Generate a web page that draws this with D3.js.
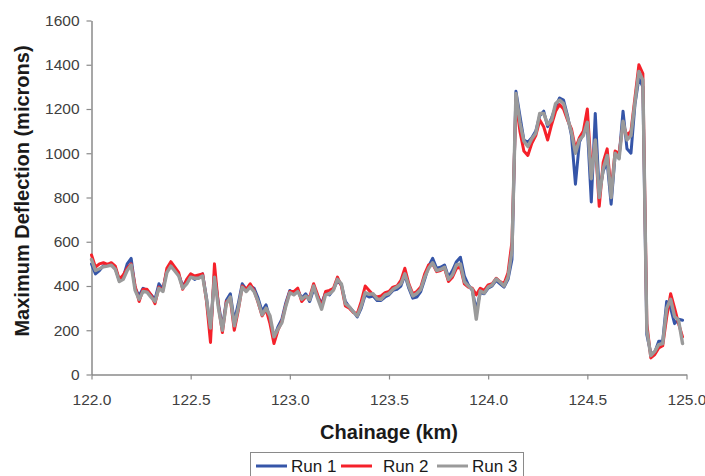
<!DOCTYPE html>
<html>
<head>
<meta charset="utf-8">
<script src="https://cdn.jsdelivr.net/npm/d3@7"></script>
<style>
  html, body { margin: 0; padding: 0; background: #fff; }
  svg { display: block; font-family: Arial, "Liberation Sans", sans-serif; }
</style>
</head>
<body>
<svg id="chart" width="705" height="476"></svg>
<script>
// Chainage sampled every 20 m from 122.00 km
const chainageStart = 122.0;
const chainageStep = 0.02;

// Maximum deflection (microns) per run
const run1 = [500,455,470,492,495,500,480,425,440,500,525,390,355,390,380,360,340,410,385,470,
  500,480,450,400,425,445,430,440,455,345,190,455,320,210,335,365,240,320,410,385,
  400,390,345,285,315,250,165,215,250,325,380,365,380,345,365,330,385,355,320,370,
  360,385,425,405,330,305,285,260,300,360,350,355,335,335,350,360,380,385,400,450,
  390,345,350,375,430,490,525,480,485,495,440,470,510,530,445,405,380,290,370,365,
  390,400,425,410,395,430,520,1280,1170,1060,1050,1070,1100,1170,1190,1120,1160,1210,1250,1240,
  1170,1080,860,1050,1090,1120,780,1180,820,920,960,770,990,980,1190,1020,1000,1220,1340,1300,
  180,95,100,150,150,330,300,230,250,245];

const run2 = [540,485,500,505,498,505,490,430,450,480,500,400,330,385,385,360,320,395,380,480,
  510,485,460,385,430,455,445,450,455,330,145,500,310,190,330,340,200,290,400,385,
  410,380,325,265,295,230,140,200,240,315,375,375,390,330,350,350,410,360,305,375,
  380,390,440,400,310,300,280,275,330,400,380,360,350,355,370,375,395,400,425,480,
  410,365,375,395,455,495,500,465,470,480,420,440,480,485,410,395,390,360,390,380,
  405,410,435,420,410,460,600,1240,1100,1010,990,1045,1080,1150,1120,1060,1130,1190,1220,1200,
  1150,1110,1020,1070,1100,1200,920,1050,760,960,1020,830,1010,1000,1130,1080,1100,1250,1400,1360,
  230,75,90,120,130,260,365,300,230,170];

const run3 = [520,470,478,487,490,494,476,420,430,470,495,380,340,375,372,350,330,390,375,460,
  490,468,445,390,410,440,435,435,445,340,210,440,300,200,320,350,220,300,395,375,
  396,375,330,270,300,265,170,205,235,310,370,360,375,340,355,338,400,345,295,360,
  365,381,430,410,320,306,283,265,310,370,362,365,342,340,360,366,385,395,410,455,
  400,355,366,385,440,480,505,470,475,485,430,450,495,500,420,400,385,250,378,368,
  395,405,432,418,400,440,560,1270,1140,1055,1030,1066,1090,1180,1180,1130,1150,1225,1240,1225,
  1160,1095,1000,1060,1080,1140,885,1060,800,930,990,800,1000,975,1145,1060,1080,1230,1370,1330,
  200,85,105,135,140,300,340,262,245,140];

const xTicks = [122.0, 122.5, 123.0, 123.5, 124.0, 124.5, 125.0];
const yTicks = [0, 200, 400, 600, 800, 1000, 1200, 1400, 1600];

const seriesNames = ["Run 1", "Run 2", "Run 3"];
const seriesColors = ["#3555a8", "#f5212a", "#9a9a9a"];
const seriesWidths = [3.0, 3.0, 3.4];

const svg = d3.select("#chart");

const x = d3.scaleLinear().domain([122, 125]).range([91.5, 686.5]);
const y = d3.scaleLinear().domain([0, 1600]).range([374.5, 20.5]);

const axisColor = "#8a8a8a";
const labelColor = "#404040";

// Axes
const xAxis = svg.append("g")
  .attr("transform", `translate(0,${y(0)})`)
  .call(d3.axisBottom(x).tickValues(xTicks).tickFormat(d3.format(".1f")).tickSizeInner(5).tickSizeOuter(0).tickPadding(14));
const yAxis = svg.append("g")
  .attr("transform", `translate(${x(122)},0)`)
  .call(d3.axisLeft(y).tickValues(yTicks).tickFormat(d3.format("d")).tickSizeInner(5).tickSizeOuter(0).tickPadding(7));

[xAxis, yAxis].forEach(g => {
  g.select(".domain").attr("stroke", axisColor).attr("stroke-width", 1.5);
  g.selectAll(".tick line").attr("stroke", axisColor).attr("stroke-width", 1.2);
  g.selectAll(".tick text").attr("fill", labelColor).attr("font-size", 15.5)
    .attr("font-family", "Arial, 'Liberation Sans', sans-serif");
});

// Data lines
const series = [run1, run2, run3];
const line = d3.line()
  .x((d, i) => x(chainageStart + i * chainageStep))
  .y(d => y(d));

series.forEach((vals, k) => {
  svg.append("path")
    .datum(vals)
    .attr("fill", "none")
    .attr("stroke", seriesColors[k])
    .attr("stroke-width", seriesWidths[k])
    .attr("stroke-linejoin", "round")
    .attr("stroke-linecap", "round")
    .attr("d", line);
});

// Axis titles
svg.append("text")
  .attr("x", 389).attr("y", 439)
  .attr("text-anchor", "middle")
  .attr("font-size", 20).attr("font-weight", "bold").attr("fill", "#1a1a1a")
  .text("Chainage (km)");

svg.append("text")
  .attr("transform", "translate(29,191) rotate(-90)")
  .attr("text-anchor", "middle")
  .attr("font-size", 20).attr("font-weight", "bold").attr("fill", "#1a1a1a")
  .text("Maximum Deflection (microns)");

// Legend
const legend = svg.append("g");
legend.append("rect")
  .attr("x", 250.5).attr("y", 452.5).attr("width", 273).attr("height", 30)
  .attr("fill", "#fff").attr("stroke", "#8a8a8a").attr("stroke-width", 1);

const legendItems = [
  { sx: 256, tx: 291 },
  { sx: 341, tx: 383 },
  { sx: 437, tx: 472 }
];
legendItems.forEach((it, k) => {
  legend.append("line")
    .attr("x1", it.sx).attr("x2", it.sx + 31)
    .attr("y1", 466).attr("y2", 466)
    .attr("stroke", seriesColors[k]).attr("stroke-width", 3);
  legend.append("text")
    .attr("x", it.tx).attr("y", 472)
    .attr("font-size", 17).attr("fill", "#1a1a1a")
    .text(seriesNames[k]);
});
</script>
</body>
</html>
